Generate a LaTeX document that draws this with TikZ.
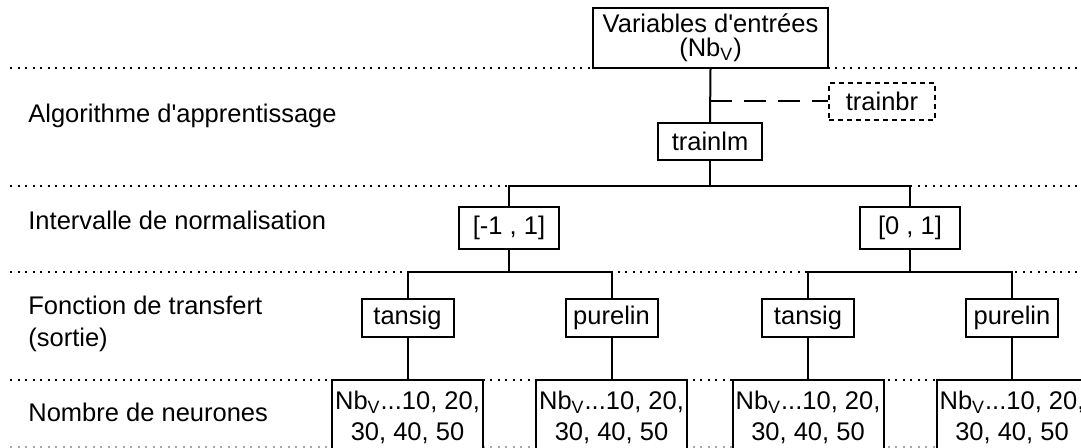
\documentclass[tikz,border=0pt]{standalone}
\usepackage{fontspec}
\setmainfont{Liberation Sans}
\usetikzlibrary{positioning}
\tikzset{
  optbox/.style={draw, line width=1pt, fill=white, align=center,
    inner sep=1pt, minimum width=46pt, minimum height=19pt},
  intbox/.style={optbox, minimum width=50pt, minimum height=21pt},
  altbox/.style={optbox, dash pattern=on 2.5pt off 2pt, minimum width=53pt, minimum height=18.5pt},
  nbbox/.style={optbox, minimum width=75.5pt, minimum height=37pt},
  rowlabel/.style={anchor=base west, inner sep=0pt, align=left},
  rowline/.style={line width=1pt, dash pattern=on 1pt off 2.75pt},
  link/.style={line width=1pt},
  altlink/.style={line width=1pt, dash pattern=on 11pt off 6pt}
}
\newcommand{\ap}{\textquotesingle}

\begin{document}
\begin{tikzpicture}[x=0.5pt,y=-0.5pt,font=\fontsize{12.75}{15.5}\selectfont]
  \clip (0,0) rectangle (1081,448);
  % separations entre niveaux
  \foreach \y in {68,186,272,380}
    \draw[rowline] (10,\y) -- (1081,\y);
  \draw[rowline, gray!70] (10,447) -- (1081,447);

  % libelles des niveaux
  \node[rowlabel] (lalgo) at (28,123) {Algorithme d\ap apprentissage};
  \node[rowlabel] (lnorm) at (28,230) {Intervalle de normalisation};
  \node[rowlabel, font=\fontsize{12.75}{16}\selectfont] (ltrans) at (28,347) {Fonction de transfert\\(sortie)};
  \node[rowlabel] (lneur) at (28,422) {Nombre de neurones};

  % arbre
  \node[optbox, minimum width=117.5pt, minimum height=30pt,
    font=\fontsize{12.75}{12}\selectfont] (entrees) at (710.5,38) {Variables d\ap entrées\\(Nb\textsubscript{V})};
  \node[altbox] (trainbr) at (882,101.5) {trainbr};
  \node[optbox, minimum width=52pt, minimum height=18.5pt] (trainlm) at (710,141.5) {trainlm};
  \node[intbox] (neg) at (509,228) {[-1 , 1]};
  \node[intbox] (pos) at (910,228) {[0 , 1]};
  \node[optbox] (tanA) at (407.5,318) {tansig};
  \node[optbox] (purA) at (611.5,318) {purelin};
  \node[optbox] (tanB) at (808,318) {tansig};
  \node[optbox] (purB) at (1012,318) {purelin};
  \foreach \n/\x in {A/407.5,B/611.5,C/808,D/1012}
    \node[nbbox] (nb\n) at (\x,417) {Nb\textsubscript{V}...10, 20,\\30, 40, 50};

  \coordinate (alt) at (trainlm.north |- trainbr.west);
  \coordinate (b0) at (710,186);
  \coordinate (b1) at (509,272);
  \coordinate (b2) at (910,272);
  \draw[link] (entrees.south) -- (trainlm.north);
  \draw[altlink] (alt) -- (trainbr.west);
  \draw[link] (trainlm.south) -- (b0);
  \draw[link] (neg.north) |- (b0) -| (pos.north);
  \draw[link] (neg.south) -- (b1);
  \draw[link] (tanA.north) |- (b1) -| (purA.north);
  \draw[link] (pos.south) -- (b2);
  \draw[link] (tanB.north) |- (b2) -| (purB.north);
  \draw[link] (tanA.south) -- (nbA.north);
  \draw[link] (purA.south) -- (nbB.north);
  \draw[link] (tanB.south) -- (nbC.north);
  \draw[link] (purB.south) -- (nbD.north);
\end{tikzpicture}
\end{document}
